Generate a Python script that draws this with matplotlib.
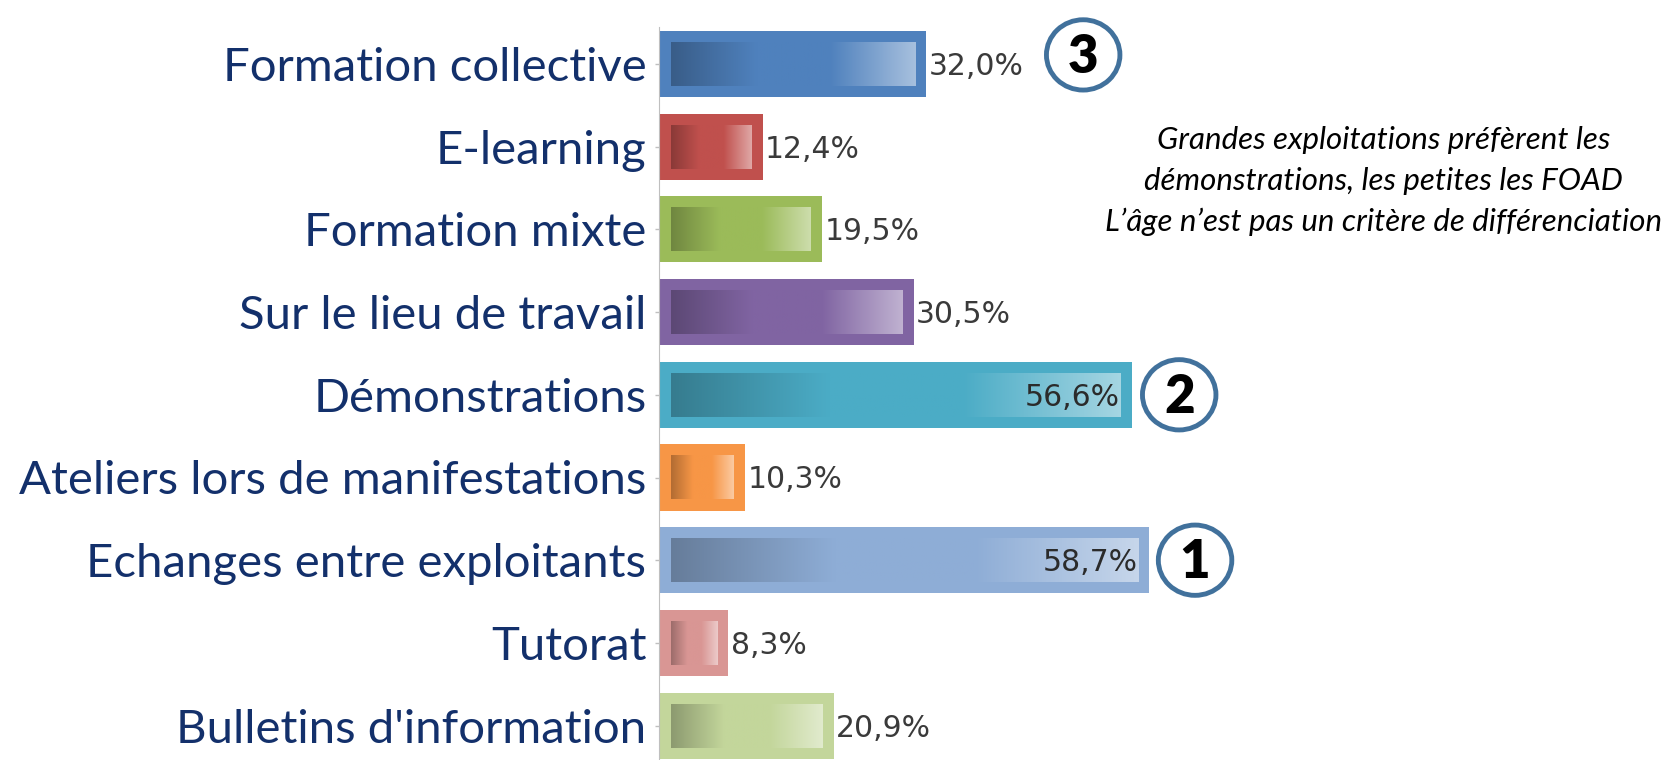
import numpy as np
import matplotlib
matplotlib.use("Agg")
import matplotlib.pyplot as plt
from matplotlib.colors import to_rgb
from matplotlib.patches import Ellipse

# Data
categories = [
    "Formation collective",
    "E-learning",
    "Formation mixte",
    "Sur le lieu de travail",
    "Démonstrations",
    "Ateliers lors de manifestations",
    "Echanges entre exploitants",
    "Tutorat",
    "Bulletins d'information",
]
values = [32.0, 12.4, 19.5, 30.5, 56.6, 10.3, 58.7, 8.3, 20.9]
colors = ["#4F81BD", "#C0504D", "#9BBB59", "#8064A2", "#4BACC6",
          "#F79646", "#8EADD6", "#D99694", "#C3D69B"]

# ranks shown in circles: (category index, rank, gap after the bar)
ranks = [(0, "3", 18.8), (4, "2", 5.7), (6, "1", 5.5)]

note = ("Grandes exploitations préfèrent les\n"
        "démonstrations, les petites les FOAD\n"
        "L’âge n’est pas un critère de différenciation")

W, H = 1673, 760
fig = plt.figure(figsize=(W / 100, H / 100), dpi=100)
ax_left = 659 / W
ax = fig.add_axes([ax_left, 0, 1 - ax_left, 1])

px_per_unit = 8.35
xmax = (W - 659) / px_per_unit
y_top = -64 / 82.7
y_bot = (H - 64) / 82.7

ypos = np.arange(len(categories))
bar_h = 0.8
ax.barh(ypos, values, height=bar_h, color=colors, edgecolor="none", zorder=2)

# gradient inside each bar
inset_x = 1.38
inner_h = 0.53
t = np.linspace(0, 1, 256)
for y, v, c in zip(ypos, values, colors):
    base = np.array(to_rgb(c))
    dark = base * 0.72
    light = base + (1 - base) * 0.5
    grad = np.empty((256, 3))
    for i, tt in enumerate(t):
        if tt < 0.35:
            f = tt / 0.35
            grad[i] = dark * (1 - f) + base * f
        elif tt > 0.65:
            f = (tt - 0.65) / 0.35
            grad[i] = base * (1 - f) + light * f
        else:
            grad[i] = base
    ax.imshow(grad[None, :, :], aspect="auto", zorder=3,
              extent=[inset_x, v - inset_x, y + inner_h / 2, y - inner_h / 2])

# value labels
for y, v in zip(ypos, values):
    txt = f"{v:.1f}%".replace(".", ",")
    if v > 50:
        ax.text(v - 1.4, y + 0.03, txt, ha="right", va="center", fontsize=21.5,
                family="DejaVu Sans", color="#2B2B2B", zorder=4)
    else:
        ax.text(v + 0.3, y + 0.03, txt, ha="left", va="center", fontsize=21.5,
                family="DejaVu Sans", color="#3A3A3A", zorder=4)

# circled ranks
for idx, r, gap in ranks:
    cx = values[idx] + gap
    cy = ypos[idx] - (0.11 if idx == 0 else 0.0)
    ax.add_patch(Ellipse((cx, cy), 8.8, 0.85, facecolor="white",
                         edgecolor="#41719C", linewidth=3.5, zorder=5))
    ax.text(cx, cy + 0.03, r, ha="center", va="center", fontsize=38,
            fontweight="heavy", family="Lato", color="black", zorder=6)

ax.text(86.8, 1.42, note, ha="center", va="center", fontsize=22.5,
        style="italic", family="Lato", color="black", linespacing=1.55)

ax.set_xlim(0, xmax)
ax.set_ylim(y_bot, y_top)
ax.set_yticks(ypos)
ax.set_yticklabels(categories, fontsize=34, family="Lato", color="#13306B")
ax.tick_params(axis="y", length=3, width=1, color="#BFBFBF", pad=6)
ax.set_xticks([])
for s in ["top", "right", "bottom"]:
    ax.spines[s].set_visible(False)
ax.spines["left"].set_color("#BFBFBF")
ax.spines["left"].set_bounds(-0.45, y_bot)
ax.set_facecolor("none")

fig.savefig("out.png", dpi=100, facecolor="white")
